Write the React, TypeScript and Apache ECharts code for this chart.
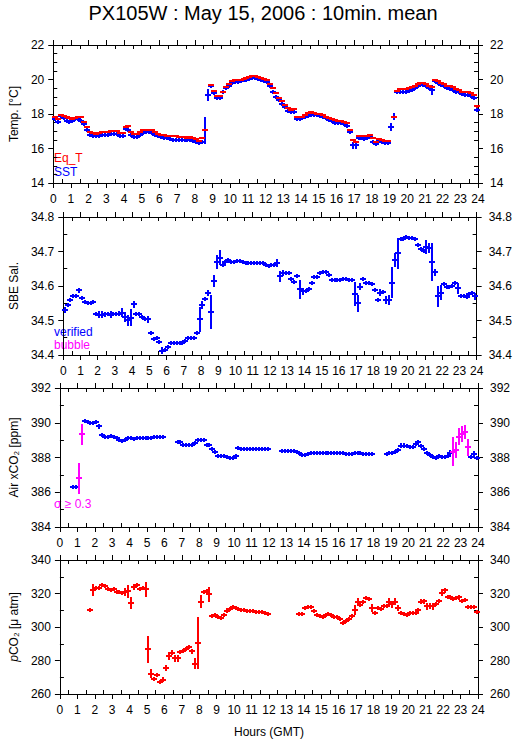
import React, { useEffect, useRef } from "react";
import * as echarts from "echarts";

const TITLE = "PX105W : May 15, 2006 : 10min. mean";
const FONT = "'Liberation Sans', Arial, Helvetica, sans-serif";
const BLUE = "#0000ff";
const RED = "#ff0000";
const MAGENTA = "#ff00ff";

// 10-minute means, 144 slots (00:00 - 24:00 GMT)
const SST = [
  17.7, 17.55, 17.9, 17.75, 17.6, 17.55,
  17.6, 17.7, 17.7, 17.6, 17.4, 17.05,
  16.8, 16.75, 16.7, 16.72, 16.78, 16.8,
  16.8, 16.82, 16.85, 16.85, 16.75, 16.75,
  17.15, 17.1, 16.8, 16.65, 16.65, 16.8,
  16.9, 16.95, 16.95, 16.9, 16.8, 16.72,
  16.65, 16.62, 16.6, 16.55, 16.52, 16.52,
  16.52, 16.52, 16.5, 16.48, 16.5, 16.45,
  16.35, 16.3, 16.35, 17.05, 19.1, 19.6,
  19.2, 18.95, 18.95, 19.25, 19.5, 19.65,
  19.8, 19.85, 19.85, 19.9, 19.95, 20.0,
  20.05, 20.1, 20.1, 20.05, 20.0, 19.9,
  19.85, 19.6, 19.3, 19.0, 18.8, 18.6,
  18.4, 18.2, 18.1, 18.12, 17.72, 17.7,
  17.75, 17.85, 17.9, 17.95, 17.95, 17.95,
  17.9, 17.85, 17.75, 17.65, 17.6, 17.5,
  17.45, 17.45, 17.4, 17.3, 16.95, 16.2,
  16.2, 16.6, 16.6, 16.55, 16.6, 16.7,
  16.4, 16.25, 16.5, 16.35, 16.3, 16.3,
  17.25, 17.85, 19.3, 19.3, 19.3, 19.3,
  19.35, 19.4, 19.5, 19.6, 19.7, 19.7,
  19.65, 19.5, 19.4, 19.9, 19.8, 19.7,
  19.6, 19.5, 19.45, 19.4, 19.3, 19.25,
  19.15, 19.1, 19.1, 19.05, 18.9, 18.25,
];
const SST_BARS: [number, number][] = [
  [0, 0.08], [24, 0.1], [51, 0.78], [52, 0.35], [101, 0.2], [102, 0.2],
  [114, 0.22], [115, 0.22], [116, 0.1], [128, 0.3], [143, 0.15],
];

const EQ_T = [
  17.85, 17.7, 17.95, 17.9, 17.8, 17.75,
  17.7, 17.75, 17.8, 17.8, 17.55, 17.25,
  16.95, 16.9, 16.85, 16.9, 16.95, 16.95,
  16.95, 17.0, 17.0, 17.0, 16.9, 16.9,
  17.25, 17.3, 16.95, 16.85, 16.85, 16.95,
  17.05, 17.1, 17.1, 17.05, 16.95, 16.85,
  16.8, 16.78, 16.75, 16.72, 16.7, 16.7,
  16.68, 16.68, 16.65, 16.62, 16.65, 16.6,
  16.55, 16.45, 16.6, 17.05, null, 19.7,
  19.35, 19.05, 19.05, 19.3, 19.55, 19.75,
  19.9, 19.95, 19.95, 20.0, 20.05, 20.1,
  20.15, 20.2, 20.2, 20.15, 20.1, 20.05,
  19.95, 19.75, 19.5, 19.2, 18.95, 18.75,
  18.55, 18.35, 18.25, 18.3, 17.85, 17.8,
  17.85, 17.95, 18.05, 18.1, 18.05, 18.0,
  18.0, 17.95, 17.85, 17.75, 17.7, 17.65,
  17.6, 17.62, 17.55, 17.45, 17.1, 16.5,
  16.4, 16.7, 16.75, 16.7, 16.75, 16.8,
  16.6, 16.35, 16.55, 16.5, 16.45, 16.45,
  null, 17.85, 19.35, 19.45, 19.45, 19.45,
  19.5, 19.55, 19.65, 19.75, 19.8, 19.8,
  19.75, 19.6, 19.55, 20.0, 19.9, 19.8,
  19.75, 19.65, 19.6, 19.55, 19.45, 19.4,
  19.25, 19.25, 19.25, 19.2, 19.1, 18.45,
];
const EQ_T_BARS: [number, number][] = [[53, 0.06], [143, 0.1]];

const SAL = [
  34.53, 34.545, 34.56, 34.572, 34.57, 34.587,
  34.566, 34.555, 34.552, 34.55, 34.555, 34.518,
  34.517, 34.517, 34.518, 34.518, 34.517, 34.518,
  34.52, 34.52, 34.523, 34.51, 34.5, 34.508,
  34.547, 34.518, 34.518, 34.511, 34.504, 34.504,
  34.463, 34.445, 34.448, 34.438, 34.412, 34.414,
  34.424, 34.436, 34.435, 34.435, 34.435, 34.436,
  34.44, 34.45, 34.45, 34.45, 34.463, 34.503,
  34.545, 34.562, 34.58, 34.525, 34.615, 34.67,
  34.682, 34.66, 34.67, 34.675, 34.67, 34.67,
  34.672, 34.672, 34.67, 34.668, 34.668, 34.668,
  34.668, 34.667, 34.667, 34.668, 34.66, 34.658,
  34.662, 34.66, 34.666, 34.628, 34.637, 34.637,
  34.637, 34.62, 34.612, 34.63, 34.59, 34.585,
  34.585, 34.59, 34.61, 34.625, 34.627, 34.637,
  34.64, 34.64, 34.632, 34.617, 34.617, 34.617,
  34.618, 34.62, 34.62, 34.617, 34.617, 34.578,
  34.55, 34.598, 34.62, 34.61, 34.61, 34.605,
  34.588, 34.56, 34.58, 34.584, 34.56, 34.56,
  34.61, 34.675, 34.695, 34.735, 34.735, 34.743,
  34.738, 34.738, 34.735, 34.72, 34.707, 34.7,
  34.712, 34.71, 34.67, 34.64, 34.57, 34.58,
  34.605, 34.598, 34.598, 34.6, 34.61, 34.593,
  34.57, 34.57, 34.567, 34.576, 34.58, 34.57,
];
const SAL_BARS: [number, number][] = [
  [0, 0.008], [5, 0.008], [12, 0.01], [13, 0.01], [14, 0.008], [16, 0.01],
  [19, 0.008], [20, 0.012], [21, 0.015], [22, 0.015], [23, 0.025], [24, 0.01],
  [29, 0.01], [34, 0.01], [47, 0.035], [48, 0.012], [50, 0.008], [51, 0.05],
  [52, 0.018], [53, 0.02], [54, 0.022], [74, 0.012], [75, 0.015], [76, 0.008],
  [82, 0.028], [83, 0.01], [101, 0.035], [102, 0.025], [103, 0.01], [110, 0.01],
  [112, 0.012], [113, 0.015], [114, 0.045], [115, 0.02], [116, 0.045], [126, 0.02],
  [127, 0.015], [128, 0.055], [129, 0.01], [130, 0.03], [131, 0.022], [137, 0.015],
  [143, 0.01],
];

const XCO2 = [
  null, null, null, null, 386.28, 386.3,
  386.8, 389.34, 390.11, 390.03, 389.98, 389.98,
  390.03, 389.8, 389.3, 389.2, 389.2, 389.24,
  389.17, 389.1, 389.0, 388.96, 389.0, 389.1,
  389.14, 389.07, 389.1, 389.14, 389.15, 389.15,
  389.15, 389.15, 389.18, 389.2, 389.2, 389.18,
  null, null, null, null, 388.92, 388.92,
  388.72, 388.72, 388.72, 388.72, 388.82, 388.98,
  389.0, 389.0, 388.72, 388.72, 388.5, 388.3,
  388.1, 388.1, 388.1, 388.05, 388.0, 387.95,
  388.08, 388.53, 388.5, 388.5, 388.5, 388.5,
  388.5, 388.5, 388.5, 388.5, 388.5, 388.5,
  null, null, null, null, 388.35, 388.35,
  388.35, 388.35, 388.35, 388.3, 388.24, 388.15,
  388.15, 388.2, 388.24, 388.24, 388.24, 388.24,
  388.24, 388.24, 388.24, 388.24, 388.24, 388.24,
  388.24, 388.24, 388.22, 388.2, 388.22, 388.24,
  388.24, 388.24, 388.22, 388.2, 388.2, 388.2,
  null, null, null, null, 388.2, 388.28,
  388.28, 388.34, 388.43, 388.69, 388.69, 388.67,
  388.59, 388.59, 388.78, 388.92, 388.69, 388.5,
  388.24, 388.15, 388.05, 388.0, 388.1, 388.05,
  388.05, 388.08, 388.24, 388.34, 388.43, 389.2,
  389.34, 389.46, 388.59, 388.05, 388.2, 387.95,
];
const XCO2_BARS: [number, number][] = [
  [6, 0.9], [7, 0.6], [13, 0.15], [21, 0.06], [51, 0.1], [59, 0.06], [60, 0.15],
  [117, 0.12], [118, 0.12], [122, 0.1], [123, 0.1], [127, 0.06], [130, 0.08],
  [134, 0.18], [135, 0.85], [136, 0.45], [137, 0.5], [138, 0.45], [139, 0.4],
  [140, 0.5], [141, 0.12], [142, 0.18],
];
const XCO2_FLAGGED = [6, 7, 135, 136, 137, 138, 139, 140];

const PCO2 = [
  null, null, null, null, null, null,
  null, null, null, null, 310.0, 321.9,
  323.2, 323.2, 325.2, 324.4, 322.9, 322.3,
  322.9, 320.9, 320.9, 320.5, 320.9, 321.3,
  314.2, 323.8, 325.2, 322.9, 323.4, 322.5,
  286.8, 272.2, 268.9, 271.4, 267.4, 268.5,
  275.6, 282.8, 284.7, 281.4, 281.4, 285.3,
  285.9, 286.6, 287.8, 285.5, 278.2, 290.5,
  315.1, 320.9, 321.5, 319.6, 306.5, 306.9,
  305.9, 305.3, 307.4, 309.8, 310.9, 311.7,
  311.3, 310.7, 310.3, 310.0, 309.8, 309.6,
  309.3, 309.0, 309.0, 308.8, 308.5, 308.0,
  null, null, null, null, null, null,
  null, null, null, null, 307.8, 307.8,
  311.3, 311.9, 311.9, 309.4, 307.4, 306.5,
  306.1, 307.1, 307.8, 307.4, 305.9, 305.9,
  304.9, 302.6, 303.6, 304.9, 306.5, 310.3,
  315.1, 313.2, 315.1, 317.1, 316.7, 311.3,
  308.4, 311.3, 310.7, 312.3, 312.8, 314.8,
  313.6, 315.1, 311.3, 308.4, 307.8, 307.4,
  308.4, 308.4, 308.4, 310.3, 315.1, 315.5,
  312.3, 312.6, 312.3, 313.6, 315.5, 320.5,
  321.9, 318.0, 318.0, 316.7, 317.5, 317.8,
  315.5, 316.1, 311.9, 311.9, 311.9, 308.8,
];
const PCO2_BARS: [number, number][] = [
  [11, 3.5], [14, 1.2], [22, 2.5], [23, 4], [24, 3.5], [25, 2], [26, 1.2], [29, 4.5],
  [30, 8], [31, 2.5], [35, 1.5], [36, 2], [37, 2.5], [38, 1.5], [39, 2], [40, 2],
  [45, 1.5], [46, 3.5], [47, 15.5], [48, 4], [51, 4.5], [57, 1.5], [101, 3], [102, 2.5],
  [103, 1.5], [105, 1.2], [107, 2.5], [109, 1.2], [113, 2.5], [114, 2], [115, 2],
  [116, 2], [124, 1.5], [125, 1.5], [126, 2], [127, 2], [128, 2], [131, 2], [132, 1.5],
  [137, 1.5], [138, 1.2],
];

const SLOT = 1 / 6;

function buildData(vals: (number | null)[], bars: [number, number][], flagged: number[] = []) {
  const errs = new Map<number, number>(bars);
  const out: number[][] = [];
  vals.forEach((v, i) => {
    if (v == null) return;
    out.push([i * SLOT + SLOT / 2, v, errs.get(i) ?? 0, flagged.includes(i) ? 1 : 0]);
  });
  return out;
}

function makeRender(color: string, flagColor: string, halfW: number, minHalf: number) {
  return (_params: any, api: any) => {
    const x = api.value(0);
    const y = api.value(1);
    const e = api.value(2);
    const f = api.value(3);
    const c = api.coord([x, y]);
    const cx = Math.round(c[0]);
    const cy = Math.round(c[1]);
    const top = api.coord([x, y + e])[1];
    const bot = api.coord([x, y - e])[1];
    const t = Math.round(Math.min(top, cy - minHalf));
    const b = Math.round(Math.max(bot, cy + minHalf));
    const col = f ? flagColor : color;
    return {
      type: "group",
      children: [
        { type: "line", shape: { x1: cx - halfW, y1: cy, x2: cx + halfW, y2: cy }, style: { stroke: col, lineWidth: 2 } },
        { type: "line", shape: { x1: cx, y1: t, x2: cx, y2: b }, style: { stroke: col, lineWidth: 2 } },
      ],
    };
  };
}

const GRIDS = [
  { top: 45, height: 138 },
  { top: 217, height: 138 },
  { top: 388, height: 139 },
  { top: 560, height: 139 },
];

const tickStyle = { color: "#000", width: 1 };

function xAxes(gi: number, last: boolean) {
  const base = {
    gridIndex: gi,
    type: "value",
    min: 0,
    max: 24,
    interval: 1,
    axisLine: { show: true, onZero: false, lineStyle: tickStyle },
    axisTick: { show: true, length: 5, lineStyle: tickStyle },
    minorTick: { show: true, splitNumber: 2, length: -4, lineStyle: tickStyle },
    splitLine: { show: false },
    minorSplitLine: { show: false },
  };
  return [
    {
      ...base,
      position: "bottom",
      axisLabel: { color: "#000", fontSize: 12, fontFamily: FONT, margin: 10 },
      name: last ? "Hours (GMT)" : "",
      nameLocation: "middle",
      nameGap: 32,
      nameTextStyle: { color: "#000", fontSize: 12, fontFamily: FONT },
    },
    { ...base, position: "top", axisLabel: { show: false } },
  ];
}

function yAxes(gi: number, min: number, max: number, interval: number, minorSplit: number, dec: number, name: string, nameGap: number, rich?: any) {
  const base = {
    gridIndex: gi,
    type: "value",
    min,
    max,
    interval,
    axisLine: { show: true, onZero: false, lineStyle: tickStyle },
    axisTick: { show: true, length: 5, lineStyle: tickStyle },
    minorTick: { show: true, splitNumber: minorSplit, length: -4, lineStyle: tickStyle },
    splitLine: { show: false },
    minorSplitLine: { show: false },
  };
  const fmt = (v: number) => v.toFixed(dec);
  return [
    {
      ...base,
      position: "left",
      axisLabel: { color: "#000", fontSize: 12, fontFamily: FONT, margin: 9, formatter: fmt },
      name,
      nameLocation: "middle",
      nameGap,
      nameTextStyle: { color: "#000", fontSize: 12, fontFamily: FONT, verticalAlign: "middle", rich },
    },
    {
      ...base,
      position: "right",
      axisLabel: { color: "#000", fontSize: 12, fontFamily: FONT, margin: 12, formatter: fmt },
    },
  ];
}

function legendText(x: number, y: number, text: string, fill: string) {
  return { type: "text", x, y, style: { text, fill, fontSize: 12, fontFamily: FONT, verticalAlign: "middle", align: "left" } };
}

export default function App() {
  const ref = useRef<HTMLDivElement>(null);
  useEffect(() => {
    if (!ref.current) return;
    const chart = echarts.init(ref.current, null, { renderer: "svg" });
    const option: any = {
      animation: false,
      backgroundColor: "#fff",
      grid: GRIDS.map((g) => ({ left: 51, right: 37, top: g.top, height: g.height })),
      xAxis: [...xAxes(0, false), ...xAxes(1, false), ...xAxes(2, false), ...xAxes(3, true)],
      yAxis: [
        ...yAxes(0, 14, 22, 2, 4, 0, "Temp. [°C]", 33),
        ...yAxes(1, 34.4, 34.8, 0.1, 2, 1, "SBE Sal.", 44),
        ...yAxes(2, 384, 392, 2, 2, 0, "Air xCO₂ [ppm]", 40),
        ...yAxes(3, 260, 340, 20, 2, 0, "{i|p}CO₂ [μ atm]", 38, { i: { fontStyle: "italic", fontSize: 12, fontFamily: FONT } }),
      ],
      graphic: [
        { type: "text", x: 263, y: 13, style: { text: TITLE, fill: "#000", fontSize: 20, fontFamily: FONT, align: "center", verticalAlign: "middle" } },
        legendText(54, 158, "Eq_T", RED),
        legendText(54, 172, "SST", BLUE),
        legendText(54, 332, "verified", BLUE),
        legendText(54, 345, "bubble", MAGENTA),
        legendText(54, 504, "σ ≥ 0.3", MAGENTA),
      ],
      series: [
        { type: "custom", name: "SST", xAxisIndex: 0, yAxisIndex: 0, renderItem: makeRender(BLUE, MAGENTA, 3, 2), data: buildData(SST, SST_BARS), encode: { x: 0, y: 1 }, dimensions: ["t", "v", "e", "f"] },
        { type: "custom", name: "Eq_T", xAxisIndex: 0, yAxisIndex: 0, renderItem: makeRender(RED, MAGENTA, 3, 1), data: buildData(EQ_T, EQ_T_BARS), encode: { x: 0, y: 1 }, dimensions: ["t", "v", "e", "f"] },
        { type: "custom", name: "SBE Sal.", xAxisIndex: 2, yAxisIndex: 2, renderItem: makeRender(BLUE, MAGENTA, 3, 2), data: buildData(SAL, SAL_BARS), encode: { x: 0, y: 1 }, dimensions: ["t", "v", "e", "f"] },
        { type: "custom", name: "Air xCO2", xAxisIndex: 4, yAxisIndex: 4, renderItem: makeRender(BLUE, MAGENTA, 3, 2), data: buildData(XCO2, XCO2_BARS, XCO2_FLAGGED), encode: { x: 0, y: 1 }, dimensions: ["t", "v", "e", "f"] },
        { type: "custom", name: "pCO2", xAxisIndex: 6, yAxisIndex: 6, renderItem: makeRender(RED, MAGENTA, 3, 2), data: buildData(PCO2, PCO2_BARS), encode: { x: 0, y: 1 }, dimensions: ["t", "v", "e", "f"] },
      ],
    };
    chart.setOption(option);
    return () => chart.dispose();
  }, []);
  return <div ref={ref} style={{ position: "fixed", left: 0, top: 0, width: 515, height: 739, background: "#fff" }} />;
}
